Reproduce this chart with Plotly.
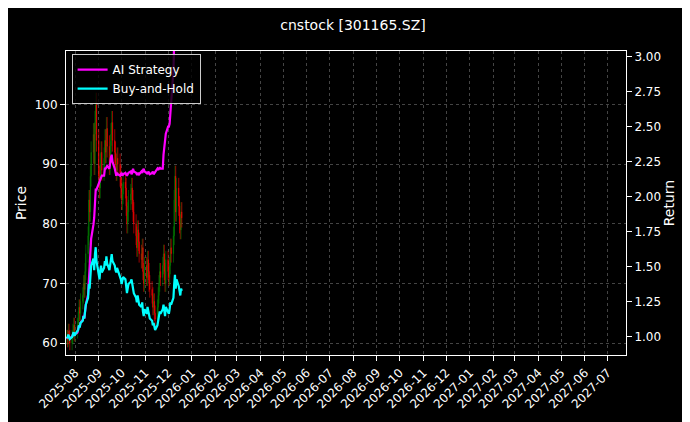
import pandas as pd
import plotly.graph_objects as go

closes = [61,60.5,62,61,60, 61,62,63,61.5,62, 63,64,66,65,67, 68,70,69,72,75,
          78,84,82,88,92, 95,90,97,100,94, 88,86,90,92,89, 91,94,92,96,93,
          90,92,95,97,94, 92,90,89,91,90, 88,86,84,85,87, 86,83,80,82,84,
          85,86,84,82,80, 78,76,79,77,75, 74,76,72,70,73, 71,74,72,70,69,
          68,66,67,65,64, 66,68,70,72,71, 73,75,72,70,74, 72,71,73,76,75,
          78,84,88,82,86, 83,80,79,82,81]
opens = [61] + closes[:-1]
highs = [max(o, c) * 1.02 for o, c in zip(opens, closes)]
lows = [min(o, c) * 0.98 for o, c in zip(opens, closes)]
strategy = [1.0,0.99,1.01,1.0,0.99, 1.0,1.01,1.03,1.01,1.02, 1.03,1.05,1.08,1.07,1.1,
            1.12,1.15,1.13,1.18,1.23, 1.3,1.4,1.45,1.55,1.7, 1.8,1.85,1.95,2.05,2.05,
            2.1,2.1,2.12,2.15,2.15, 2.15,2.2,2.2,2.22,2.22, 2.2,2.25,2.28,2.3,2.25,
            2.2,2.18,2.15,2.17,2.16, 2.15,2.16,2.17,2.15,2.16, 2.17,2.16,2.15,2.16,2.17,
            2.18,2.16,2.17,2.2,2.18, 2.17,2.16,2.16,2.17,2.16, 2.18,2.17,2.19,2.2,2.18,
            2.17,2.16,2.18,2.17,2.16, 2.17,2.18,2.16,2.17,2.18, 2.2,2.19,2.2,2.21,2.2,
            2.2,2.3,2.35,2.4,2.45, 2.5,2.5,2.52,2.6,2.7, 2.9,3.1,3.2,3.3,3.3,
            3.3,3.3,3.3,3.3,3.3]
dates = pd.bdate_range("2025-07-21", periods=len(closes))
buyhold = [c / closes[0] for c in closes]

fig = go.Figure()
fig.add_trace(go.Candlestick(x=dates, open=opens, high=highs, low=lows, close=closes,
    increasing=dict(line=dict(color="green", width=0.6), fillcolor="green"),
    decreasing=dict(line=dict(color="red", width=0.6), fillcolor="red"),
    showlegend=False, whiskerwidth=0))
fig.add_trace(go.Scatter(x=dates, y=strategy, name="AI Strategy", yaxis="y2",
    line=dict(color="magenta", width=2.2)))
fig.add_trace(go.Scatter(x=dates, y=buyhold, name="Buy-and-Hold", yaxis="y2",
    line=dict(color="cyan", width=2.2)))

grid = dict(showgrid=True, gridcolor="#444", griddash="dot", gridwidth=0.6)
fig.update_layout(
    width=690, height=422, paper_bgcolor="black", plot_bgcolor="black",
    font=dict(family="DejaVu Sans", color="white", size=12),
    title=dict(text="cnstock [301165.SZ]", x=0.5, y=0.97, font=dict(size=14)),
    margin=dict(l=58, r=72, t=43, b=75),
    xaxis=dict(type="date", range=["2025-07-20", "2027-07-25"], dtick="M1",
               tickformat="%Y-%m", tickangle=-45, rangeslider=dict(visible=False),
               showline=True, linecolor="white", mirror=True, ticks="outside",
               tickcolor="white", **grid),
    yaxis=dict(title=dict(text="Price", standoff=4), range=[58, 109], dtick=10, showline=True,
               linecolor="white", ticks="outside", tickcolor="white", **grid),
    yaxis2=dict(title=dict(text="Return", standoff=2), overlaying="y", side="right",
                range=[0.87, 3.04], dtick=0.25, tickformat=".2f", showgrid=False,
                showline=True, linecolor="white", ticks="outside", tickcolor="white"),
    legend=dict(x=0.01, y=0.99, xanchor="left", yanchor="top", bgcolor="rgba(0,0,0,0.8)",
                bordercolor="#ccc", borderwidth=1, font=dict(size=12)),
)
fig.write_html("out.html")
